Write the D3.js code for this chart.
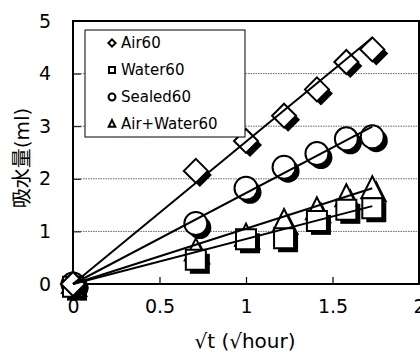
<!DOCTYPE html>
<html><head><meta charset="utf-8">
<script src="https://cdn.jsdelivr.net/npm/d3@7"></script>
<style>body{margin:0;background:#fff}svg{display:block}</style>
</head><body>
<script>
const xs = [0, 0.71, 1.0, 1.22, 1.41, 1.58, 1.73];
const seriesNames = ["Air60", "Water60", "Sealed60", "Air+Water60"];
const air60 = [0, 2.15, 2.72, 3.2, 3.7, 4.22, 4.46];
const water60 = [-0.05, 0.46, 0.85, 0.87, 1.2, 1.41, 1.44];
const sealed60 = [0, 1.15, 1.82, 2.22, 2.48, 2.76, 2.8];
const airWater60 = [0, 0.62, 0.9, 1.18, 1.4, 1.65, 1.8];
const fitEnd = [4.68, 1.48, 2.99, 1.82];
const xTicks = [0, 0.5, 1, 1.5, 2];
const yTicks = [0, 1, 2, 3, 4, 5];
const xLabel = "√t (√hour)";
const yLabel = "吸水量(ml)";

const W = 420, H = 352;
const svg = d3.select("body").append("svg").attr("width", W).attr("height", H);
const x = d3.scaleLinear().domain([0, 2]).range([73, 419]);
const y = d3.scaleLinear().domain([0, 5]).range([284, 21]);
const font = "DejaVu Sans, Noto Sans CJK JP, sans-serif";

// gridlines
svg.append("g").selectAll("line").data(yTicks.filter(d => d > 0 && d < 5)).join("line")
  .attr("x1", x(0)).attr("x2", x(2)).attr("y1", d => y(d)).attr("y2", d => y(d))
  .attr("stroke", "#666").attr("stroke-width", 1).attr("stroke-dasharray", "1.5,1");

// axes
const xAxis = d3.axisBottom(x).tickValues(xTicks).tickSize(-7).tickPadding(16).tickFormat(d3.format("~g"));
const gx = svg.append("g").attr("transform", `translate(0,${y(0)})`).call(xAxis);
gx.select(".domain").remove();
gx.selectAll(".tick line").attr("stroke", "#000").attr("stroke-width", 1.2).filter(d => d === 0 || d === 2).remove();
gx.selectAll("text").attr("font-family", font).attr("font-size", 19).attr("fill", "#000").attr("dy", "0.71em");

const yAxis = d3.axisLeft(y).tickValues(yTicks).tickSize(-8).tickPadding(22).tickFormat(d3.format("~g"));
const gy = svg.append("g").attr("transform", `translate(${x(0)},0)`).call(yAxis);
gy.select(".domain").remove();
gy.selectAll(".tick line").attr("stroke", "#000").attr("stroke-width", 1).filter(d => d === 0 || d === 5).remove();
gy.selectAll("text").attr("font-family", font).attr("font-size", 19).attr("fill", "#000");

// frame
svg.append("rect").attr("x", x(0)).attr("y", y(5)).attr("width", x(2) - x(0)).attr("height", y(0) - y(5))
  .attr("fill", "none").attr("stroke", "#000").attr("stroke-width", 2);

// axis titles
svg.append("text").attr("x", 245).attr("y", 348).attr("text-anchor", "middle")
  .attr("font-family", font).attr("font-size", 20).text(xLabel);
svg.append("text").attr("transform", `translate(29,${158}) rotate(-90)`).attr("text-anchor", "middle")
  .attr("font-family", font).attr("font-size", 20).text(yLabel);

const allSeries = [air60, water60, sealed60, airWater60];
function shapePath(k, s) {
  const p = d3.path();
  if (k === 0) { p.moveTo(0, -12 * s); p.lineTo(12 * s, 0); p.lineTo(0, 12 * s); p.lineTo(-12 * s, 0); p.closePath(); }
  else if (k === 1) { p.rect(-10 * s, -10 * s, 20 * s, 20 * s); }
  else if (k === 2) { p.moveTo(11.5 * s, 0); p.arc(0, 0, 11.5 * s, 0, 2 * Math.PI); p.closePath(); }
  else { p.moveTo(0, -13 * s); p.lineTo(11 * s, 9 * s); p.lineTo(-11 * s, 9 * s); p.closePath(); }
  return p.toString();
}

// markers
function drawMarkers(vals, k) {
  const g = svg.append("g");
  const pts = xs.map((xv, i) => [xv, vals[i]]);
  g.selectAll(".sh").data(pts).join("path")
    .attr("transform", d => `translate(${x(d[0]) + 4},${y(d[1]) + 4})`)
    .attr("d", shapePath(k, 1)).attr("fill", "#000");
  g.selectAll(".fg").data(pts).join("path")
    .attr("transform", d => `translate(${x(d[0])},${y(d[1])})`)
    .attr("d", shapePath(k, 1)).attr("fill", "#fff").attr("stroke", "#000").attr("stroke-width", 2);
}
[2, 3, 1, 0].forEach(k => drawMarkers(allSeries[k], k));

svg.append("g").selectAll("line").data(fitEnd).join("line")
  .attr("x1", x(0)).attr("y1", y(0)).attr("x2", x(1.73)).attr("y2", d => y(d))
  .attr("stroke", "#000").attr("stroke-width", 2);

// legend
const lg = svg.append("g");
lg.append("rect").attr("x", 85).attr("y", 30).attr("width", 160).attr("height", 107)
  .attr("fill", "#fff").attr("stroke", "#000").attr("stroke-width", 1);
const lscale = [0.3, 0.3, 0.3, 0.3];
seriesNames.forEach((name, k) => {
  const cy = 43 + k * 27;
  lg.append("path").attr("transform", `translate(112,${cy})`)
    .attr("d", shapePath(k, lscale[k]))
    .attr("fill", "#fff").attr("stroke", "#000").attr("stroke-width", 2);
  lg.append("text").attr("x", 121).attr("y", cy + 5).attr("font-family", font).attr("font-size", 15).text(name);
});
</script>
</body></html>
